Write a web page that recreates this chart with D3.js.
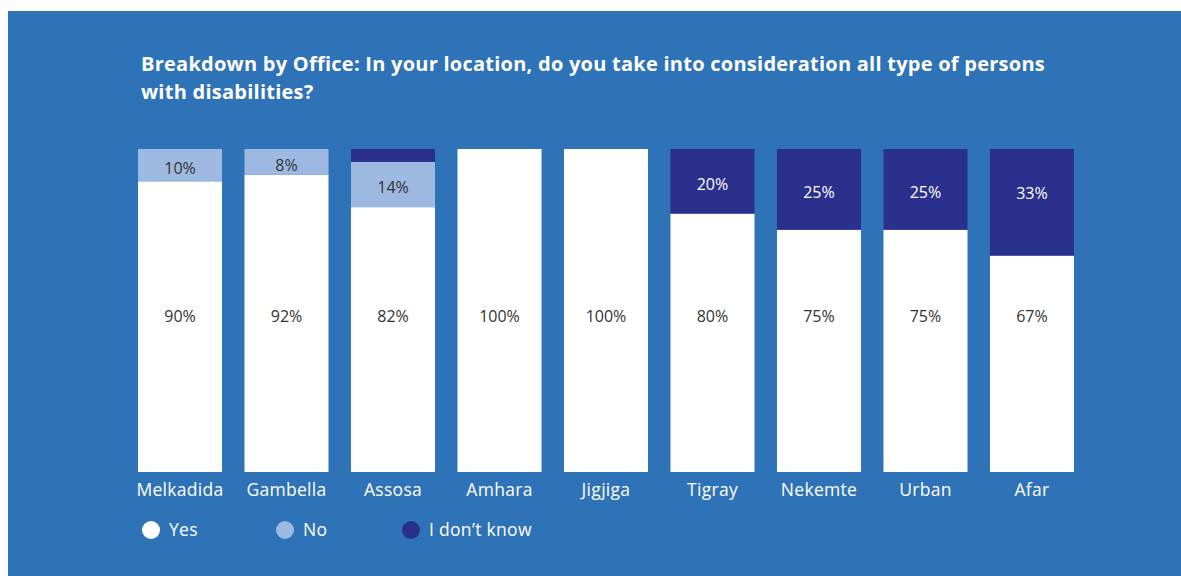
<!DOCTYPE html>
<html>
<head>
<meta charset="utf-8">
<script src="https://cdn.jsdelivr.net/npm/d3@7"></script>
<style>
body { margin: 0; background: #fff; }
svg text { font-family: "Open Sans", sans-serif; }
</style>
</head>
<body>
<svg id="chart" width="1181" height="576"></svg>
<script>
var offices = ["Melkadida", "Gambella", "Assosa", "Amhara", "Jigjiga", "Tigray", "Nekemte", "Urban", "Afar"];
var yesVals = [90, 92, 82, 100, 100, 80, 75, 75, 67];
var noVals = [10, 8, 14, 0, 0, 0, 0, 0, 0];
var idkVals = [0, 0, 4, 0, 0, 20, 25, 25, 33];
var answers = ["Yes", "No", "I don\u2019t know"];
var colors = ["#ffffff", "#9db9e1", "#2a308c"];
var labelColors = ["#333333", "#333333", "#ffffff"];

var svg = d3.select("#chart");

svg.append("rect").attr("x", 8).attr("y", 11).attr("width", 1173).attr("height", 565).attr("fill", "#2e72b8");

// titulo
var title = svg.append("text").attr("fill", "#fff").attr("font-weight", "bold").attr("font-size", 20).attr("letter-spacing", 0.25);
title.append("tspan").attr("x", 141).attr("y", 71).text("Breakdown by Office: In your location, do you take into consideration all type of persons");
title.append("tspan").attr("x", 141).attr("y", 99).text("with disabilities?");

var x = d3.scaleBand().domain(offices).range([138, 1074]).paddingInner(0.211).paddingOuter(0);
var y = d3.scaleLinear().domain([0, 100]).range([472, 149]);

var rows = offices.map(function(d, i) {
	return { office: d, Yes: yesVals[i], No: noVals[i], "I don\u2019t know": idkVals[i] };
});
var stack = d3.stack().keys(answers)(rows);

var layers = svg.selectAll("g.layer").data(stack).enter().append("g").attr("class", "layer")
	.attr("fill", function(d, i) { return colors[i]; });

layers.selectAll("rect").data(function(d) { return d; }).enter().append("rect")
	.attr("x", function(d) { return x(d.data.office); })
	.attr("y", function(d) { return y(d[1]); })
	.attr("height", function(d) { return y(d[0]) - y(d[1]); })
	.attr("width", x.bandwidth());

// etiquetas de valores
stack.forEach(function(layer, k) {
	svg.append("g").selectAll("text").data(layer.filter(function(d) { return d[1] - d[0] >= 8; }))
		.enter().append("text")
		.attr("x", function(d) { return x(d.data.office) + x.bandwidth() / 2; })
		.attr("y", function(d) {
			if (k == 0) return 316;
			return Math.min((y(d[0]) + y(d[1])) / 2 + 3, 193);
		})
		.attr("dy", "0.35em")
		.attr("text-anchor", "middle")
		.attr("font-size", 16)
		.attr("fill", labelColors[k])
		.text(function(d) { return (d[1] - d[0]) + "%"; });
});

// eje x
var xAxis = svg.append("g").attr("transform", "translate(0,472)")
	.call(d3.axisBottom(x).tickSize(0).tickPadding(12));
xAxis.select(".domain").remove();
xAxis.selectAll("text").attr("fill", "#fff").attr("font-size", 17.5).attr("letter-spacing", 0.3)
	.attr("font-family", "'Open Sans', sans-serif");

// leyenda
var legendX = [151, 285, 411];
var legend = svg.selectAll("g.legend").data(answers).enter().append("g").attr("class", "legend")
	.attr("transform", function(d, i) { return "translate(" + legendX[i] + ",530)"; });
legend.append("circle").attr("r", 9).attr("fill", function(d, i) { return colors[i]; });
legend.append("text").attr("x", 18).attr("dy", "0.35em").attr("font-size", 17.5).attr("letter-spacing", 0.3).attr("fill", "#fff")
	.text(function(d) { return d; });
</script>
</body>
</html>
